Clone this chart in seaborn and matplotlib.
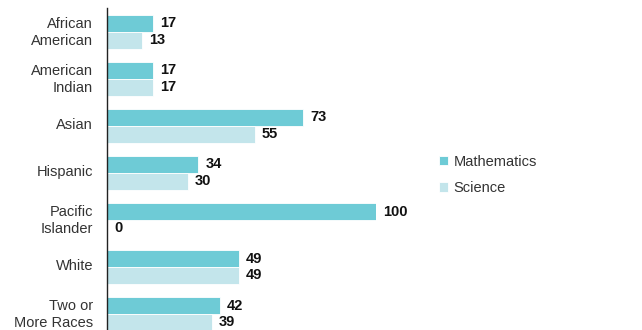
import numpy as np
import pandas as pd
import seaborn as sns
import matplotlib.pyplot as plt

# Data
groups = ['African\nAmerican', 'American\nIndian', 'Asian', 'Hispanic',
          'Pacific\nIslander', 'White', 'Two or\nMore Races']
math = [17, 17, 73, 34, 100, 49, 42]
science = [13, 17, 55, 30, 0, 49, 39]

df = pd.DataFrame({
    'Group': groups * 2,
    'Value': math + science,
    'Subject': ['Mathematics'] * len(groups) + ['Science'] * len(groups)
})

sns.set_style('white')
plt.rcParams['font.family'] = ['Liberation Sans', 'DejaVu Sans']

fig = plt.figure(figsize=(6.42, 3.30), dpi=100)
ax = fig.add_axes([0.1667, 0.0, 0.419, 0.976])

sns.barplot(
    data=df,
    x='Value',
    y='Group',
    hue='Subject',
    orient='h',
    palette=['#6ecbd6', '#c3e5eb'],
    saturation=1,
    width=0.72,
    edgecolor='white',
    linewidth=0.6,
    ax=ax
)

for c in ax.containers:
    ax.bar_label(c, padding=5, fontsize=10.5, fontweight='bold',
                 color='#111111', clip_on=False)

ax.set_xlim(0, 100)
ax.set_ylim(6.34, -0.51)
ax.set_xlabel('')
ax.set_ylabel('')
ax.set_xticks([])
# nudge category labels up a little, as in the original
ax.set_yticks(np.arange(len(groups)) - 0.05, labels=groups)
ax.tick_params(axis='y', length=0, pad=10, labelsize=10.5, labelcolor='#333333')
for t in ax.get_yticklabels():
    t.set_linespacing(1.3)

for s in ['top', 'right', 'bottom']:
    ax.spines[s].set_visible(False)
ax.spines['left'].set_color('#222222')
ax.spines['left'].set_linewidth(1)

handles, labels = ax.get_legend_handles_labels()
ax.legend(handles, labels, loc='center left', bbox_to_anchor=(0.663, 0.47),
          bbox_transform=fig.transFigure, frameon=False, fontsize=10.5,
          handlelength=0.6, handleheight=0.6, handletextpad=0.4,
          labelspacing=0.85, labelcolor='#333333')

plt.savefig('out.png', dpi=100)
